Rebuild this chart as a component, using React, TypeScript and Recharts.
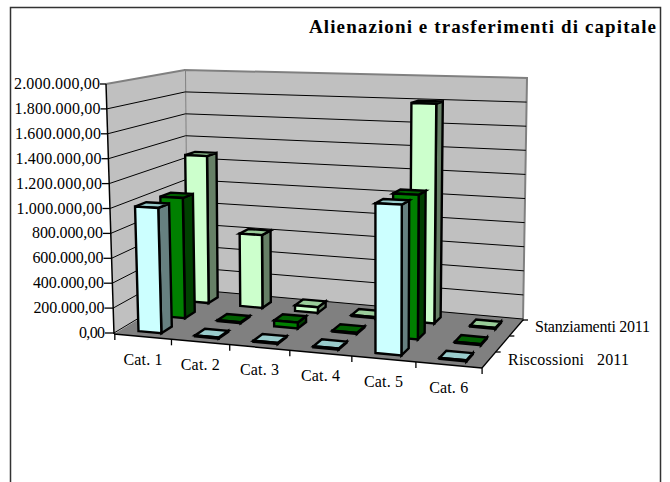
import React from "react";
import { BarChart, Bar, XAxis, YAxis, CartesianGrid } from "recharts";

const categories = ["Cat. 1", "Cat. 2", "Cat. 3", "Cat. 4", "Cat. 5", "Cat. 6"];
const riscossioni = [1000000, 0, 0, 0, 1130000, 0];
const intermedia = [1000000, 0, 40000, 0, 1130000, 0];
const stanziamenti = [1280000, 620000, 40000, 0, 1800000, 0];
const yTicks = [0, 200000, 400000, 600000, 800000, 1000000, 1200000, 1400000, 1600000, 1800000, 2000000];
const yLabels = ["0,00", "200.000,00", "400.000,00", "600.000,00", "800.000,00", "1.000.000,00", "1.200.000,00", "1.400.000,00", "1.600.000,00", "1.800.000,00", "2.000.000,00"];
const title = "Alienazioni e trasferimenti di capitale";

const data = categories.map((c, i) => ({
  cat: c,
  riscossioni: riscossioni[i],
  intermedia: intermedia[i],
  stanziamenti: stanziamenti[i],
}));

const W = 670, H = 482;
const L = 114, R = 482, T = 84, B = 334;
const font = "'Liberation Serif', serif";

type P = [number, number];
const FL: P = [114, 334], FR: P = [482, 368], BR: P = [523, 320], BL: P = [187, 290];
const TFL: P = [106, 84], TFR: P = [485, 93], TBR: P = [527, 78], TBL: P = [185, 70];
const WARP = 1.1;
const lerp = (a: P, b: P, t: number): P => [a[0] + (b[0] - a[0]) * t, a[1] + (b[1] - a[1]) * t];
const warp = (u: number) => u / (WARP + (1 - WARP) * u);
function project(u: number, d: number, v: number): P {
  const w = warp(u);
  const bottom = lerp(lerp(FL, FR, w), lerp(BL, BR, w), d);
  const top = lerp(lerp(TFL, TFR, w), lerp(TBL, TBR, w), d);
  return lerp(bottom, top, v);
}
const path = (pts: P[]) => "M" + pts.map((p) => `${p[0].toFixed(2)},${p[1].toFixed(2)}`).join("L") + "Z";
const toU = (x: number) => (x - L) / (R - L);
const toV = (y: number) => (B - y) / (B - T);

const seriesSlots = [
  { d0: 0.1, d1: 0.25, front: "#CCFFFF", side: "#668080", top: "#99CCCC" },
  { d0: 0.44, d1: 0.58, front: "#008000", side: "#004000", top: "#006000" },
  { d0: 0.78, d1: 0.91, front: "#CCFFCC", side: "#668066", top: "#99CC99" },
];

function Box(props: any) {
  const { x, y, width, slot } = props;
  const s = seriesSlots[slot];
  const u0 = toU(x), u1 = toU(x + width), v = toV(y);
  const common = { stroke: "#000", strokeWidth: 2.4, strokeLinejoin: "miter" as const };
  return (
    <g>
      <path d={path([project(u1, s.d0, 0), project(u1, s.d1, 0), project(u1, s.d1, v), project(u1, s.d0, v)])} fill={s.side} {...common} />
      <path d={path([project(u0, s.d0, v), project(u1, s.d0, v), project(u1, s.d1, v), project(u0, s.d1, v)])} fill={s.top} {...common} />
      <path d={path([project(u0, s.d0, 0), project(u1, s.d0, 0), project(u1, s.d0, v), project(u0, s.d0, v)])} fill={s.front} {...common} />
    </g>
  );
}

function Backdrop() {
  const g = "#808080";
  return (
    <svg width={W} height={H} style={{ position: "absolute", left: 0, top: 0 }}>
      <rect x={10.5} y={7.5} width={650} height={490} fill="#fff" stroke="#333" strokeWidth={1.5} />
      <text x={656} y={33} textAnchor="end" textLength={347} fontFamily={font} fontSize={19} fontWeight="bold" fill="#000">{title}</text>
      <path d={path([BL, BR, TBR, TBL])} fill="#C0C0C0" stroke={g} strokeWidth={2} />
      <path d={path([FL, BL, TBL, TFL])} fill="#C0C0C0" stroke="none" />
      <path d={`M${TFL}L${TBL}`} stroke={g} strokeWidth={2} fill="none" />
      <path d={path([FL, FR, BR, BL])} fill="#808080" stroke="none" />
      <text x={535} y={332} textLength={115} fontFamily={font} fontSize={16} fill="#000">Stanziamenti 2011</text>
      <text x={508} y={365} fontFamily={font} fontSize={16} fill="#000" textLength={121} style={{ whiteSpace: "pre" }}>Riscossioni   2011</text>
      <path d={`M${FR}L${BR}`} stroke="#000" strokeWidth={1.3} fill="none" />
      {[1, 2, 3].map((k) => {
        const p = project(1, k / 3, 0);
        return <path key={k} d={`M${p[0]},${p[1]}h5`} stroke="#000" strokeWidth={1.3} fill="none" />;
      })}
      <path d={`M${TFL}L${FL}`} stroke="#000" strokeWidth={1.5} fill="none" />
      <path d={`M${FL}L${FR}`} stroke="#000" strokeWidth={1.5} fill="none" />
    </svg>
  );
}

function gridLine(props: any) {
  const v = toV(props.y1);
  if (v < 0.001 || v > 0.999) return <g key={props.key} />;
  const a = project(0, 0, v), b = project(0, 1, v), c = project(1, 1, v);
  return <path key={props.key} d={`M${a}L${b}L${c}`} stroke="#000" strokeWidth={1} fill="none" />;
}

function YTick(props: any) {
  const v = toV(props.y);
  const p = project(0, 0, v);
  const len = 6 + 3 * (1 - v);
  const label = yLabels[yTicks.indexOf(props.payload.value)];
  const n = label.length;
  return (
    <g>
      <path d={`M${p[0] - len},${p[1]}H${p[0]}`} stroke="#000" strokeWidth={1.3} />
      <text x={p[0] - len} y={p[1] + 5} textAnchor="end" textLength={n > 10 ? 86 : n > 4 ? 71 : 26} fontFamily={font} fontSize={16} fill="#000">{label}</text>
    </g>
  );
}

function XTick(props: any) {
  const band = (R - L) / categories.length;
  const uc = toU(props.x);
  const p = project(uc, 0, 0);
  const right = project(toU(props.x + band / 2), 0, 0);
  const left = project(toU(props.x - band / 2), 0, 0);
  return (
    <g>
      {props.index === 0 && <path d={`M${left[0]},${left[1]}v6`} stroke="#000" strokeWidth={1.3} />}
      <path d={`M${right[0]},${right[1]}v6`} stroke="#000" strokeWidth={1.3} />
      <text x={p[0]} y={p[1] + 28} textAnchor="middle" textLength={39} fontFamily={font} fontSize={16} fill="#000">{props.payload.value}</text>
    </g>
  );
}

export default function App() {
  return (
    <div style={{ position: "absolute", left: 0, top: 0, width: W, height: H, overflow: "hidden" }}>
      <Backdrop />
      <div style={{ position: "absolute", left: 0, top: 0 }}>
        <BarChart
          width={W}
          height={H}
          data={data}
          margin={{ top: T, left: L, right: W - R, bottom: H - B }}
          barSize={25}
          barGap={-25}
        >
          <CartesianGrid vertical={false} horizontal={gridLine} />
          <XAxis dataKey="cat" height={1} axisLine={false} tickLine={false} tick={XTick} interval={0} />
          <YAxis width={1} domain={[0, 2000000]} ticks={yTicks} axisLine={false} tickLine={false} tick={YTick} interval={0} />
          <Bar dataKey="stanziamenti" isAnimationActive={false} shape={(p: any) => <Box {...p} slot={2} />} />
          <Bar dataKey="intermedia" isAnimationActive={false} shape={(p: any) => <Box {...p} slot={1} />} />
          <Bar dataKey="riscossioni" isAnimationActive={false} shape={(p: any) => <Box {...p} slot={0} />} />
        </BarChart>
      </div>
    </div>
  );
}
